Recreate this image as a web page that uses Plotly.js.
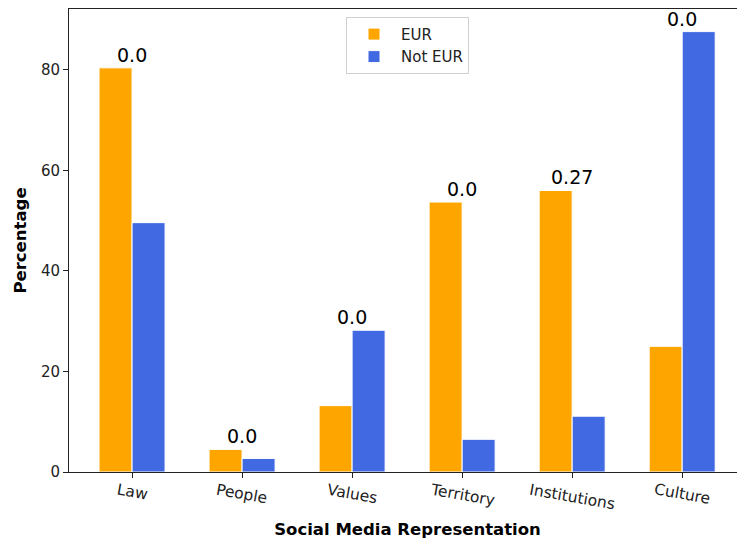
<!DOCTYPE html>
<html>
<head>
<meta charset="utf-8">
<script src="https://cdn.plot.ly/plotly-3.0.1.min.js"></script>
<style>
  html, body { margin: 0; padding: 0; overflow: hidden; background: #fff; }
  #chart { width: 760px; height: 539px; }
</style>
</head>
<body>
<div id="chart"></div>
<script>
// Share of posts per representation dimension, split by EUR vs Not EUR
const categories = ['Law', 'People', 'Values', 'Territory', 'Institutions', 'Culture'];
const eurValues = [80.4, 4.5, 13.2, 53.7, 56.0, 25.0];
const notEurValues = [49.6, 2.7, 28.2, 6.5, 11.1, 87.6];
const groupLabels = ['0.0', '0.0', '0.0', '0.0', '0.27', '0.0'];
const yTicks = [0, 20, 40, 60, 80];

const FONT = 'DejaVu Sans, sans-serif';
const xIdx = categories.map((_, i) => i);

const traces = [
  {
    type: 'bar', name: 'EUR', x: xIdx, y: eurValues,
    width: 0.3, offset: -0.3,
    marker: { color: '#FFA500', line: { color: '#ffffff', width: 1 } },
    hoverinfo: 'skip'
  },
  {
    type: 'bar', name: 'Not EUR', x: xIdx, y: notEurValues,
    width: 0.3, offset: 0,
    marker: { color: '#4169E1', line: { color: '#ffffff', width: 1 } },
    hoverinfo: 'skip'
  }
];

const annotations = [];
// Group labels sitting on top of the taller bar of each pair
categories.forEach((c, i) => {
  annotations.push({
    x: i, y: Math.max(eurValues[i], notEurValues[i]),
    xref: 'x', yref: 'y', text: groupLabels[i], showarrow: false,
    xanchor: 'center', yanchor: 'bottom', yshift: 0,
    font: { family: FONT, size: 19, color: '#000' }
  });
});
// Slightly tilted category labels under each tick
categories.forEach((c, i) => {
  annotations.push({
    x: i, y: 0, xref: 'x', yref: 'paper', text: c, showarrow: false,
    xanchor: 'center', yanchor: 'top', yshift: -6, textangle: 10,
    font: { family: FONT, size: 15.5, color: '#222' }
  });
});

const layout = {
  width: 760, height: 539,
  margin: { l: 69, r: 14, t: 9, b: 67 },
  paper_bgcolor: '#fff', plot_bgcolor: '#fff',
  font: { family: FONT, color: '#222' },
  barmode: 'overlay',
  showlegend: true,
  legend: {
    x: 0.5, xanchor: 'center', y: 0.983, yanchor: 'top',
    bgcolor: '#fff', bordercolor: '#d0d0d0', borderwidth: 1,
    font: { family: FONT, size: 15, color: '#222' },
    itemwidth: 44,
    tracegroupgap: 0
  },
  xaxis: {
    range: [-0.573, 5.58],
    tickmode: 'array', tickvals: xIdx, ticktext: categories,
    showticklabels: false,
    ticks: 'outside', ticklen: 5, tickwidth: 1, tickcolor: '#222',
    showline: true, linecolor: '#222', linewidth: 1, mirror: true,
    showgrid: false, zeroline: false,
    title: {
      text: '<b>Social Media Representation</b>', standoff: 46,
      font: { family: FONT, size: 16.5, color: '#000' }
    }
  },
  yaxis: {
    range: [0, 92.1],
    tickmode: 'array', tickvals: yTicks,
    ticks: 'outside', ticklen: 5, tickwidth: 1, tickcolor: '#222',
    tickfont: { family: FONT, size: 15, color: '#222' },
    showline: true, linecolor: '#222', linewidth: 1,
    showgrid: false, zeroline: false,
    title: {
      text: '<b>Percentage</b>', standoff: 10,
      font: { family: FONT, size: 16.5, color: '#000' }
    }
  },
  annotations: annotations
};

Plotly.newPlot('chart', traces, layout, { staticPlot: true, displayModeBar: false });
</script>
</body>
</html>
